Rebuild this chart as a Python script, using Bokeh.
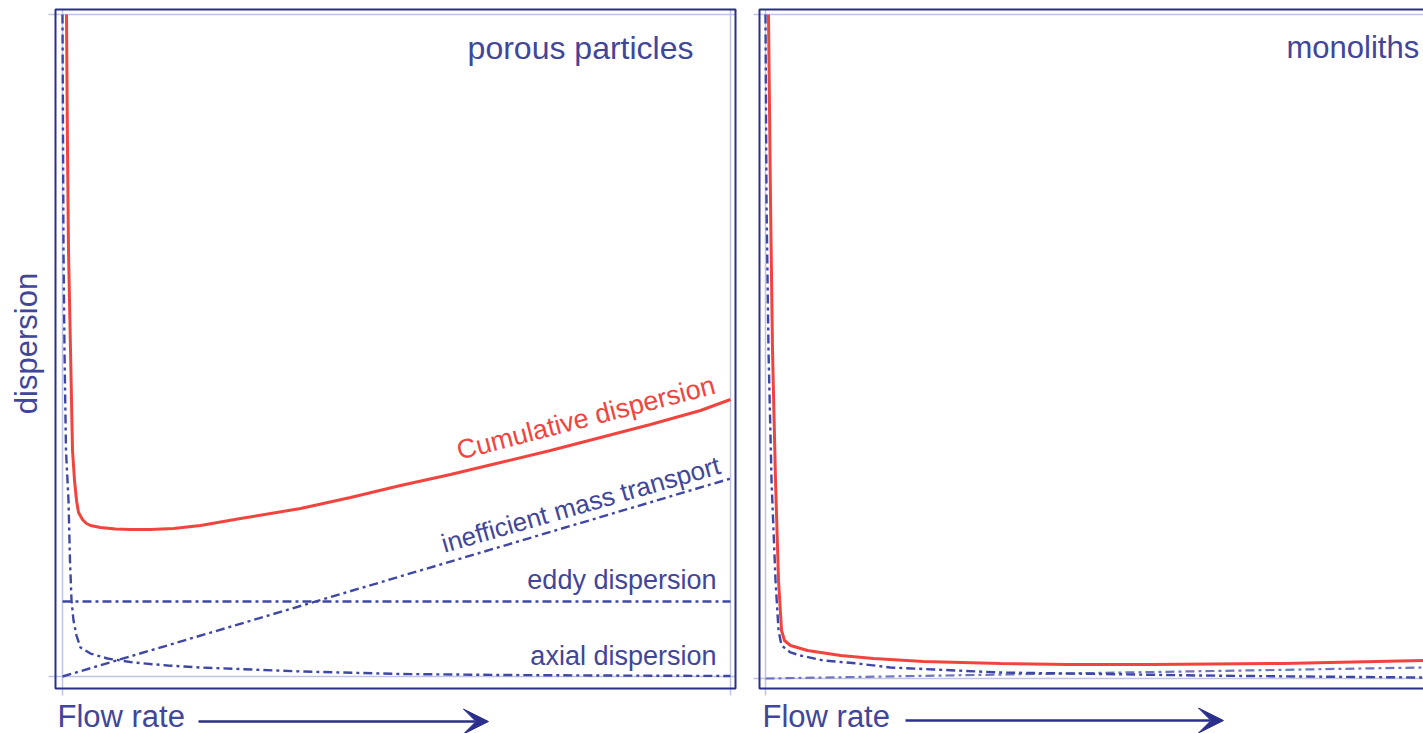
from bokeh.plotting import figure
from bokeh.layouts import row
from bokeh.models import Range1d, Label, Arrow, VeeHead
from bokeh.embed import file_html
from bokeh.resources import INLINE

# ---------------- data (arbitrary units: flow rate 0..100, dispersion 0..100) ----------------
# porous particles panel
pp_axial_x = [0.0, 0.15, 0.30, 0.52, 0.90, 1.12, 1.35, 1.65, 2.10, 2.69, 4.19, 6.74, 10.63, 15.72,
              20.66, 35.63, 50.6, 65.57, 80.54, 100.0]
pp_axial_y = [100.0, 64.35, 49.24, 34.14, 26.59, 17.52, 11.48, 8.46, 6.19, 4.38, 3.47, 2.72, 2.11, 1.66,
              1.36, 0.76, 0.38, 0.23, 0.15, 0.08]
pp_eddy_x = [0.0, 100.0]
pp_eddy_y = [11.33, 11.33]
pp_mass_x = [0.0, 100.0]
pp_mass_y = [0.0, 29.9]
pp_total_x = [0.60, 0.75, 0.90, 1.20, 1.50, 1.80, 2.10, 2.40, 2.99, 3.59, 4.19, 5.69, 7.93, 10.18,
              13.17, 16.62, 20.66, 26.65, 35.63, 43.11, 50.60, 58.08, 65.57, 73.05, 80.54, 88.02,
              95.51, 100.0]
pp_total_y = [100.0, 79.46, 64.35, 49.24, 34.14, 29.61, 26.59, 24.77, 23.72, 23.11, 22.81, 22.51,
              22.28, 22.21, 22.21, 22.36, 22.81, 23.87, 25.38, 27.04, 28.85, 30.51, 32.33, 34.14,
              36.10, 38.07, 40.18, 41.84]

# monoliths panel
mo_axial_x = [0.0, 0.15, 0.45, 0.90, 1.50, 1.95, 2.40, 3.74, 5.24, 8.68, 13.77, 18.71, 25.15, 35.18,
              50.15, 65.12, 80.09, 98.5]
mo_axial_y = [100.0, 71.99, 49.40, 29.82, 14.76, 7.23, 4.97, 3.92, 3.46, 2.71, 2.26, 1.66, 1.36, 0.90,
              0.68, 0.45, 0.30, 0.15]
mo_mass_x = [0.0, 98.5]
mo_mass_y = [0.0, 1.66]
mo_total_x = [0.45, 0.75, 1.05, 1.50, 1.95, 2.40, 2.84, 3.74, 6.29, 11.23, 16.17, 23.65, 35.18, 45.21,
              57.63, 77.54, 98.5]
mo_total_y = [100.0, 71.99, 49.40, 29.82, 14.76, 7.23, 5.72, 4.97, 4.22, 3.46, 3.01, 2.56, 2.26, 2.11,
              2.11, 2.26, 2.71]

panel_titles = ["porous particles", "monoliths"]
x_label = "Flow rate"
y_label = "dispersion"
curve_labels = ["Cumulative dispersion", "inefficient mass transport", "eddy dispersion", "axial dispersion"]

# ---------------- styles ----------------
NAVY = "#2b2f8c"
TEXT = "#41469a"
DASH = "#3f47a5"
LIGHT = "#bfc3e4"
RED = "#f2443e"
FONT = "Liberation Sans"
DASHPAT = "9 4 3 4"


def base_figure(width, x_range, y_range):
    p = figure(width=width, height=733, output_backend="svg", toolbar_location=None,
               x_range=Range1d(*x_range), y_range=Range1d(*y_range),
               x_axis_location=None, y_axis_location=None,
               min_border=0, min_border_left=0, min_border_right=0, min_border_top=0, min_border_bottom=0,
               background_fill_color="white", border_fill_color="white", outline_line_color=None)
    p.xgrid.visible = False
    p.ygrid.visible = False
    return p


def lbl(p, x, y, text, size, color=TEXT, align="left", baseline="alphabetic", angle=0):
    p.add_layout(Label(x=x, y=y, text=text, text_align=align, text_baseline=baseline,
                       angle=angle, angle_units="deg", text_font=FONT, text_font_size=size,
                       text_color=color))


# ---------------- left panel: porous particles ----------------
p1 = base_figure(745, (-9.281, 102.246), (-8.610, 102.115))

# inner (light) plot-area lines with their small outward ticks
p1.segment(x0=[0, 100, -2.10, -2.10], y0=[-2.87, -2.87, 0, 100],
           x1=[0, 100, 100.75, 100.75], y1=[100.75, 100.75, 0, 100],
           line_color=LIGHT, line_width=1.5)
# outer frame
p1.quad(left=[-1.048], right=[100.75], bottom=[-1.81], top=[100.755],
        fill_color=None, line_color=NAVY, line_width=2)

p1.line(pp_eddy_x, pp_eddy_y, line_color=DASH, line_width=2.4, line_dash=DASHPAT)
p1.line(pp_mass_x, pp_mass_y, line_color=DASH, line_width=2.4, line_dash=DASHPAT)
p1.line(pp_axial_x, pp_axial_y, line_color=DASH, line_width=2.4, line_dash=DASHPAT)
p1.line(pp_total_x, pp_total_y, line_color=RED, line_width=3)

lbl(p1, 94.46, 95.0, panel_titles[0], "32px", align="right")
lbl(p1, 97.6, 44.1, curve_labels[0], "27px", color=RED, align="right", angle=14.5)
lbl(p1, 98.35, 32.0, curve_labels[1], "26px", align="right", angle=16)
lbl(p1, 97.9, 14.65, curve_labels[2], "27px", align="right")
lbl(p1, 97.9, 3.16, curve_labels[3], "27px", align="right")
lbl(p1, -5.45, 50.3, y_label, "31px", align="center", baseline="middle", angle=90)
lbl(p1, -0.75, -6.05, x_label, "31px")
p1.add_layout(Arrow(x_start=20.36, y_start=-6.8, x_end=63.77, y_end=-6.8, line_color=NAVY, line_width=2.5,
                    end=VeeHead(size=25, fill_color=NAVY, line_color=NAVY)))

# ---------------- right panel: monoliths ----------------
p2 = base_figure(678, (-2.994, 98.503), (-8.283, 102.108))

p2.segment(x0=[0, -1.80, -1.80], y0=[-2.56, 0, 100],
           x1=[0, 99.0, 99.0], y1=[100.75, 0, 100],
           line_color=LIGHT, line_width=1.5)
p2.quad(left=[-0.898], right=[105.0], bottom=[-1.506], top=[100.75],
        fill_color=None, line_color=NAVY, line_width=2)

p2.line(mo_mass_x, mo_mass_y, line_color="#6e74bd", line_width=2.2, line_dash=DASHPAT)
p2.line(mo_axial_x, mo_axial_y, line_color=DASH, line_width=2.4, line_dash=DASHPAT)
p2.line(mo_total_x, mo_total_y, line_color=RED, line_width=3)

lbl(p2, 78.0, 95.0, panel_titles[1], "31px")
lbl(p2, -0.45, -5.72, x_label, "31px")
p2.add_layout(Arrow(x_start=20.96, y_start=-6.33, x_end=68.56, y_end=-6.33, line_color=NAVY, line_width=2.5,
                    end=VeeHead(size=25, fill_color=NAVY, line_color=NAVY)))

layout = row(p1, p2)
open("out.html", "w").write(file_html(layout, INLINE))
